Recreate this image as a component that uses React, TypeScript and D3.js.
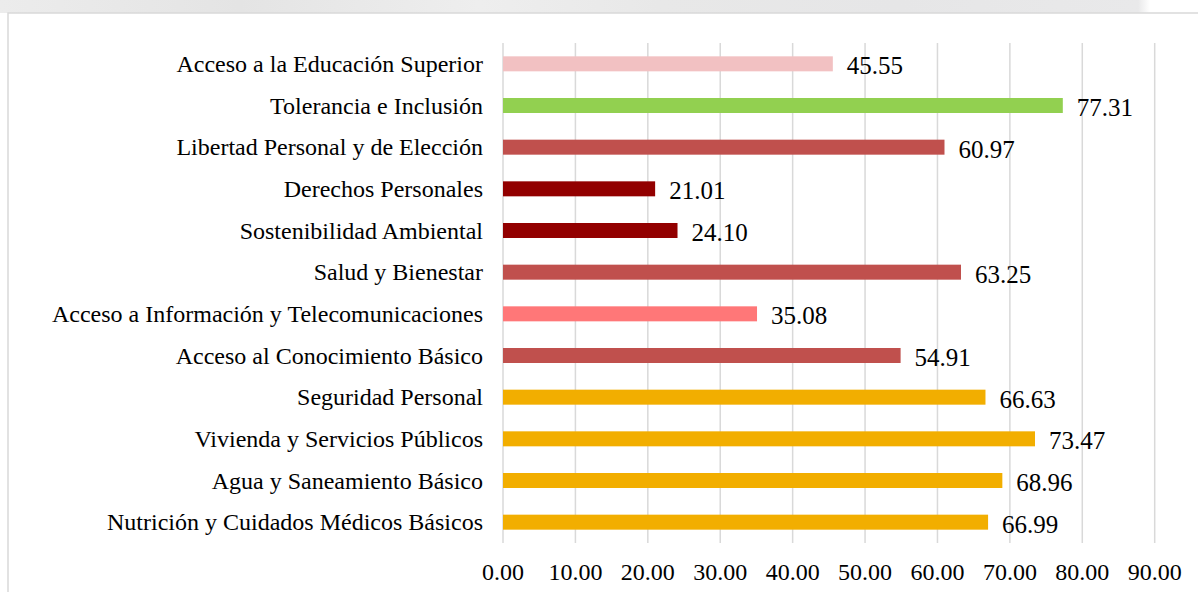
import React from "react";
import * as d3 from "d3";

const categories = [
  "Acceso a la Educación Superior",
  "Tolerancia e Inclusión",
  "Libertad Personal y de Elección",
  "Derechos Personales",
  "Sostenibilidad Ambiental",
  "Salud y Bienestar",
  "Acceso a Información y Telecomunicaciones",
  "Acceso al Conocimiento Básico",
  "Seguridad Personal",
  "Vivienda y Servicios Públicos",
  "Agua y Saneamiento Básico",
  "Nutrición y Cuidados Médicos Básicos",
];
const values = [45.55, 77.31, 60.97, 21.01, 24.1, 63.25, 35.08, 54.91, 66.63, 73.47, 68.96, 66.99];
const barColors = [
  "#f2c1c2", "#92d050", "#c0504d", "#920000", "#920000", "#c0504d",
  "#ff7778", "#c0504d", "#f2ae00", "#f2ae00", "#f2ae00", "#f2ae00",
];
const ticks = [0, 10, 20, 30, 40, 50, 60, 70, 80, 90];

const W = 1198;
const H = 592;
const x0 = 503;
const x1 = 1154.7;
const yTop = 43;
const yBot = 543;

export default function App() {
  const x = d3.scaleLinear().domain([0, 90]).range([x0, x1]);
  const y = d3.scaleBand<string>().domain(categories).range([yTop, yBot]).paddingInner(0.64).paddingOuter(0.32);
  const font = "'Liberation Serif', 'Times New Roman', serif";
  return (
    <svg width={W} height={H} style={{ position: "absolute", left: 0, top: 0, background: "#fff" }}>
      <defs>
        <linearGradient id="bg" x1="0" x2="1" y1="0" y2="0">
          <stop offset="0" stopColor="#ececec" />
          <stop offset="0.2" stopColor="#e4e4e4" />
          <stop offset="0.4" stopColor="#eeeeee" />
          <stop offset="0.55" stopColor="#e8e8e8" />
          <stop offset="0.75" stopColor="#e6e6e7" />
          <stop offset="0.95" stopColor="#e9e9ea" />
          <stop offset="0.96" stopColor="#ffffff" />
          <stop offset="1" stopColor="#ffffff" />
        </linearGradient>
      </defs>
      <rect x={0} y={0} width={W} height={13} fill="url(#bg)" />
      <rect x={8} y={13} width={W} height={H} fill="#fff" stroke="#d9d9d9" strokeWidth={1.5} />
      {ticks.map((t) => (
        <line key={t} x1={x(t)} x2={x(t)} y1={yTop} y2={yBot} stroke="#d9d9d9" strokeWidth={1.5} />
      ))}
      {categories.map((c, i) => {
        const by = y(c)!;
        const bh = y.bandwidth();
        const cy = by + bh / 2;
        return (
          <g key={c}>
            <rect x={x(0)} y={by} width={x(values[i]) - x(0)} height={bh} fill={barColors[i]} />
            <text
              x={483}
              y={cy}
              textAnchor="end"
              dominantBaseline="central"
              fontFamily={font}
              fontSize={24}
              fill="#000"
            >
              {c}
            </text>
            <text
              x={x(values[i]) + 14}
              y={cy + 2}
              dominantBaseline="central"
              fontFamily={font}
              fontSize={25}
              fill="#000"
            >
              {values[i].toFixed(2)}
            </text>
          </g>
        );
      })}
      {ticks.map((t) => (
        <text
          key={"l" + t}
          x={x(t)}
          y={580}
          textAnchor="middle"
          fontFamily={font}
          fontSize={24}
          fill="#000"
        >
          {t.toFixed(2)}
        </text>
      ))}
    </svg>
  );
}
